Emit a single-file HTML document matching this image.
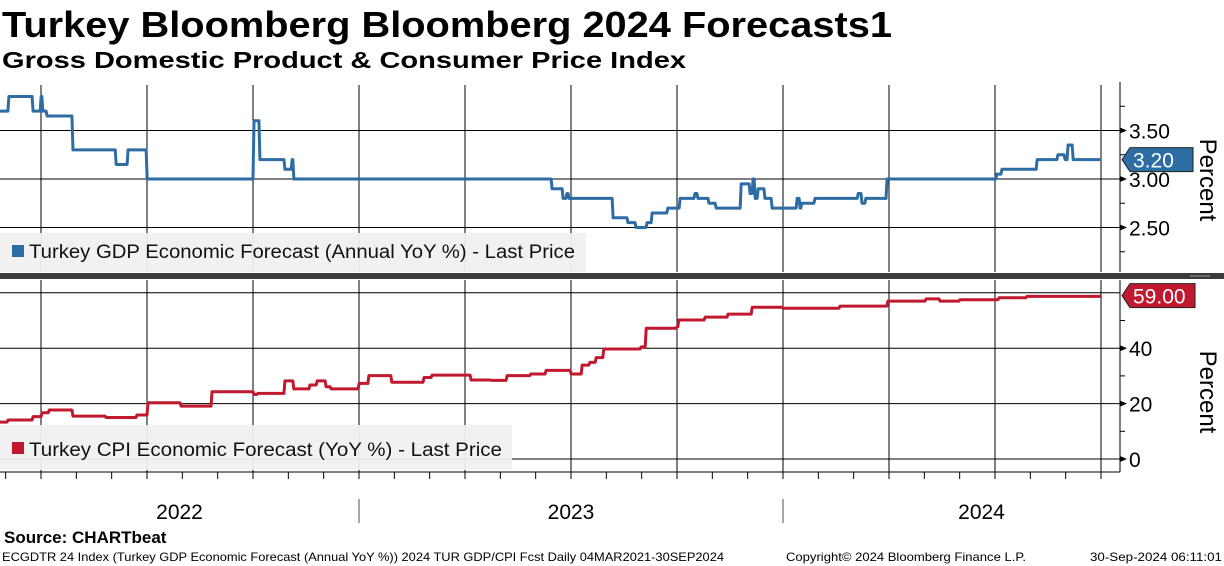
<!DOCTYPE html>
<html><head><meta charset="utf-8"><style>
body{margin:0;background:#fff;width:1224px;height:566px;overflow:hidden;font-family:"Liberation Sans",sans-serif}
svg{display:block}
</style></head><body>
<svg id="c" width="1224" height="566" xmlns="http://www.w3.org/2000/svg">
<text x="2" y="37" font-size="36" font-weight="bold" textLength="890" lengthAdjust="spacingAndGlyphs">Turkey Bloomberg Bloomberg 2024 Forecasts1</text>
<text x="2" y="68" font-size="23" font-weight="bold" textLength="684" lengthAdjust="spacingAndGlyphs">Gross Domestic Product &amp; Consumer Price Index</text>
<g id="grid"></g>
<rect x="0" y="273" width="1224" height="6" fill="#3c3c3c"/>
<line x1="1190" y1="276" x2="1210" y2="276" stroke="#999"/>
<rect x="0" y="233" width="586" height="39" fill="#f0f0f0" opacity="0.95"/>
<rect x="12" y="245" width="12" height="12" fill="#2e6ca4"/>
<text x="29" y="258" font-size="19" fill="#111" textLength="546" lengthAdjust="spacingAndGlyphs">Turkey GDP Economic Forecast (Annual YoY %) - Last Price</text>
<rect x="0" y="425" width="512" height="45" fill="#f0f0f0" opacity="0.95"/>
<rect x="12" y="442" width="12" height="12" fill="#c0182f"/>
<text x="29" y="456" font-size="19" fill="#111" textLength="473" lengthAdjust="spacingAndGlyphs">Turkey CPI Economic Forecast (YoY %) - Last Price</text>
<g id="series"></g>
<g id="axes"></g>
<text x="4" y="543" font-size="17" font-weight="bold">Source: CHARTbeat</text>
<text x="2" y="561" font-size="12" textLength="722" lengthAdjust="spacingAndGlyphs">ECGDTR 24 Index (Turkey GDP Economic Forecast (Annual YoY %)) 2024 TUR GDP/CPI Fcst  Daily 04MAR2021-30SEP2024</text>
<text x="786" y="561" font-size="12" textLength="240" lengthAdjust="spacingAndGlyphs">Copyright© 2024 Bloomberg Finance L.P.</text>
<text x="1090" y="561" font-size="12" textLength="132" lengthAdjust="spacingAndGlyphs">30-Sep-2024 06:11:01</text>
</svg>
<script>
const gdpT=[2022.153,2022.172,2022.229,2022.248,2022.252,2022.262,2022.323,2022.425,2022.453,2022.498,2022.750,2022.764,2022.823,2022.840,2022.844,2023.453,2023.479,2023.488,2023.493,2023.597,2023.632,2023.651,2023.677,2023.689,2023.726,2023.755,2023.790,2023.797,2023.823,2023.840,2023.899,2023.920,2023.927,2023.932,2023.939,2023.955,2023.972,2024.024,2024.031,2024.038,2024.042,2024.073,2024.175,2024.184,2024.193,2024.243,2024.502,2024.514,2024.597,2024.646,2024.663,2024.670,2024.682,2024.748];
const gdpV=[3.7,3.85,3.7,3.85,3.7,3.65,3.3,3.15,3.3,3.0,3.6,3.2,3.1,3.2,3.0,2.9,2.8,2.85,2.8,2.6,2.55,2.5,2.55,2.65,2.7,2.8,2.85,2.8,2.75,2.7,2.95,2.85,3.0,2.8,2.9,2.8,2.7,2.7,2.8,2.7,2.75,2.8,2.85,2.75,2.8,3.0,3.05,3.1,3.2,3.25,3.2,3.35,3.2,3.2];
const cpiT=[2022.153,2022.170,2022.229,2022.250,2022.267,2022.323,2022.401,2022.474,2022.500,2022.578,2022.651,2022.750,2022.759,2022.823,2022.844,2022.882,2022.899,2022.920,2022.932,2022.998,2023.021,2023.075,2023.151,2023.170,2023.243,2023.262,2023.309,2023.347,2023.403,2023.439,2023.481,2023.498,2023.524,2023.542,2023.557,2023.575,2023.663,2023.675,2023.748,2023.752,2023.814,2023.868,2023.925,2023.998,2024.132,2024.245,2024.335,2024.368,2024.415,2024.507,2024.573,2024.748];
const cpiV=[13.3,14.1,15.3,16.7,17.7,15.5,15.0,15.9,20.3,19.1,24.3,23.3,23.7,28.2,25.3,26.7,28.2,26.1,25.3,27.3,30.1,27.7,29.4,30.3,30.3,28.5,28.4,30.1,30.7,32.0,32.0,30.7,33.9,34.9,36.6,39.7,40.5,47.2,47.8,50.2,51.2,52.3,54.8,54.4,55.2,57.0,57.8,57.0,57.5,58.2,58.7,59.0];
const gdpTicks=[2.5,3.0,3.5];
const gdpMinor=[2.25,2.75,3.25,3.75];
const cpiTicks=[0,20,40,60];
const cpiTickLabels=["0","20","40",""];
const cpiMinor=[10,30,50];
const years=["2022","2023","2024"];
const gdpLast=3.20, cpiLast=59.00;

const NS="http://www.w3.org/2000/svg";
const X0=1120, PLOT_R=1120;
function xS(t){return 359+(t-2023)*424;}
function yG(v){return 179-(v-3)*97;}
function yC(v){return 459-v*2.77;}
function mk(tag,attrs,parent){const e=document.createElementNS(NS,tag);for(const k in attrs)e.setAttribute(k,attrs[k]);parent.appendChild(e);return e;}
const grid=document.getElementById('grid'),ser=document.getElementById('series'),ax=document.getElementById('axes');

for(let q=0;q<12;q++){
  const t=2022.25+q*0.25;const x=xS(t);
  if(x<0||x>PLOT_R)continue;
  const a=mk('line',{x1:x,y1:85,x2:x,y2:272,stroke:'#000','stroke-width':1},grid);
  
  
  const b=mk('line',{x1:x,y1:280,x2:x,y2:472,stroke:'#000','stroke-width':1},grid);
  
  
}
gdpTicks.forEach(v=>{
  const l=mk('line',{x1:0,y1:yG(v),x2:X0,y2:yG(v),stroke:'#000','stroke-width':1},grid);
  
  
  const t=mk('text',{x:X0+9,y:yG(v)+8,'font-size':21},ax);t.textContent=v.toFixed(2);
  
  
  mk('path',{d:`M${X0} ${yG(v)-3}L${X0+7} ${yG(v)}L${X0} ${yG(v)+3}Z`,fill:'#000'},ax);
});
gdpMinor.forEach(v=>mk('line',{x1:X0,y1:yG(v),x2:X0+5,y2:yG(v),stroke:'#000'},ax));
cpiTicks.forEach((v,i)=>{
  const l=mk('line',{x1:0,y1:yC(v),x2:X0,y2:yC(v),stroke:'#000','stroke-width':1},grid);
  
  
  if(cpiTickLabels[i]){
    const t=mk('text',{x:X0+9,y:yC(v)+8,'font-size':21},ax);t.textContent=cpiTickLabels[i];
    
    
    mk('path',{d:`M${X0} ${yC(v)-3}L${X0+7} ${yC(v)}L${X0} ${yC(v)+3}Z`,fill:'#000'},ax);
  }
});
cpiMinor.forEach(v=>mk('line',{x1:X0,y1:yC(v),x2:X0+5,y2:yC(v),stroke:'#000'},ax));
mk('line',{x1:X0,y1:82,x2:X0,y2:272,stroke:'#000'},ax);
mk('line',{x1:X0,y1:280,x2:X0,y2:472,stroke:'#000'},ax);
mk('line',{x1:0,y1:472,x2:X0,y2:472,stroke:'#000'},ax);
for(let m=0;m<36;m++){const x=xS(2022+m/12);if(x<0||x>X0)continue;mk('line',{x1:x,y1:472,x2:x,y2:479,stroke:'#000'},ax);}
years.forEach((y,i)=>{
  const yr=+y;const a=Math.max(0,xS(yr)),b=Math.min(X0+60,xS(yr+1));
  const t=mk('text',{x:(a+b)/2,y:519,'font-size':21,'text-anchor':'middle'},ax);t.textContent=y;
  
  
  if(i>0){mk('line',{x1:xS(yr),y1:499,x2:xS(yr),y2:523,stroke:'#888','stroke-width':1.5},ax);}
});
[[180,'gdp-y-axis-title'],[392,'cpi-y-axis-title']].forEach(([cy,n])=>{
  const t=mk('text',{x:0,y:0,'font-size':24,'text-anchor':'middle',transform:`translate(1200 ${cy}) rotate(90)`},ax);t.textContent='Percent';
  
  
});
function stepPath(T,V,yf){let d='';for(let i=0;i<T.length;i++){const x=xS(T[i]),y=yf(V[i]);if(i==0)d=`M${x} ${y}`;else d+=`L${x} ${yf(V[i-1])}L${x+1} ${y}`;}return d;}
const g=mk('path',{d:stepPath(gdpT,gdpV,yG),fill:'none',stroke:'#2e6ca4','stroke-width':3,'stroke-linejoin':'round'},ser);


const c=mk('path',{d:stepPath(cpiT,cpiV,yC),fill:'none',stroke:'#c0182f','stroke-width':3,'stroke-linejoin':'round'},ser);


function tag(y,txt,col,w,n){
  const p=mk('path',{d:`M${X0+2} ${y}L${X0+10} ${y-12}L${X0+10+w} ${y-12}L${X0+10+w} ${y+12}L${X0+10} ${y+12}Z`,fill:col,stroke:'#222','stroke-width':1},ax);
  
  
  const t=mk('text',{x:X0+13,y:y+8,'font-size':21,fill:'#fff'},ax);t.textContent=txt;
  
  
}
tag(yG(gdpLast),gdpLast.toFixed(2),'#2e6ca4',63,'gdp-last-value-tag');
tag(yC(cpiLast),cpiLast.toFixed(2),'#c0182f',65,'cpi-last-value-tag');
</script>
</body></html>
